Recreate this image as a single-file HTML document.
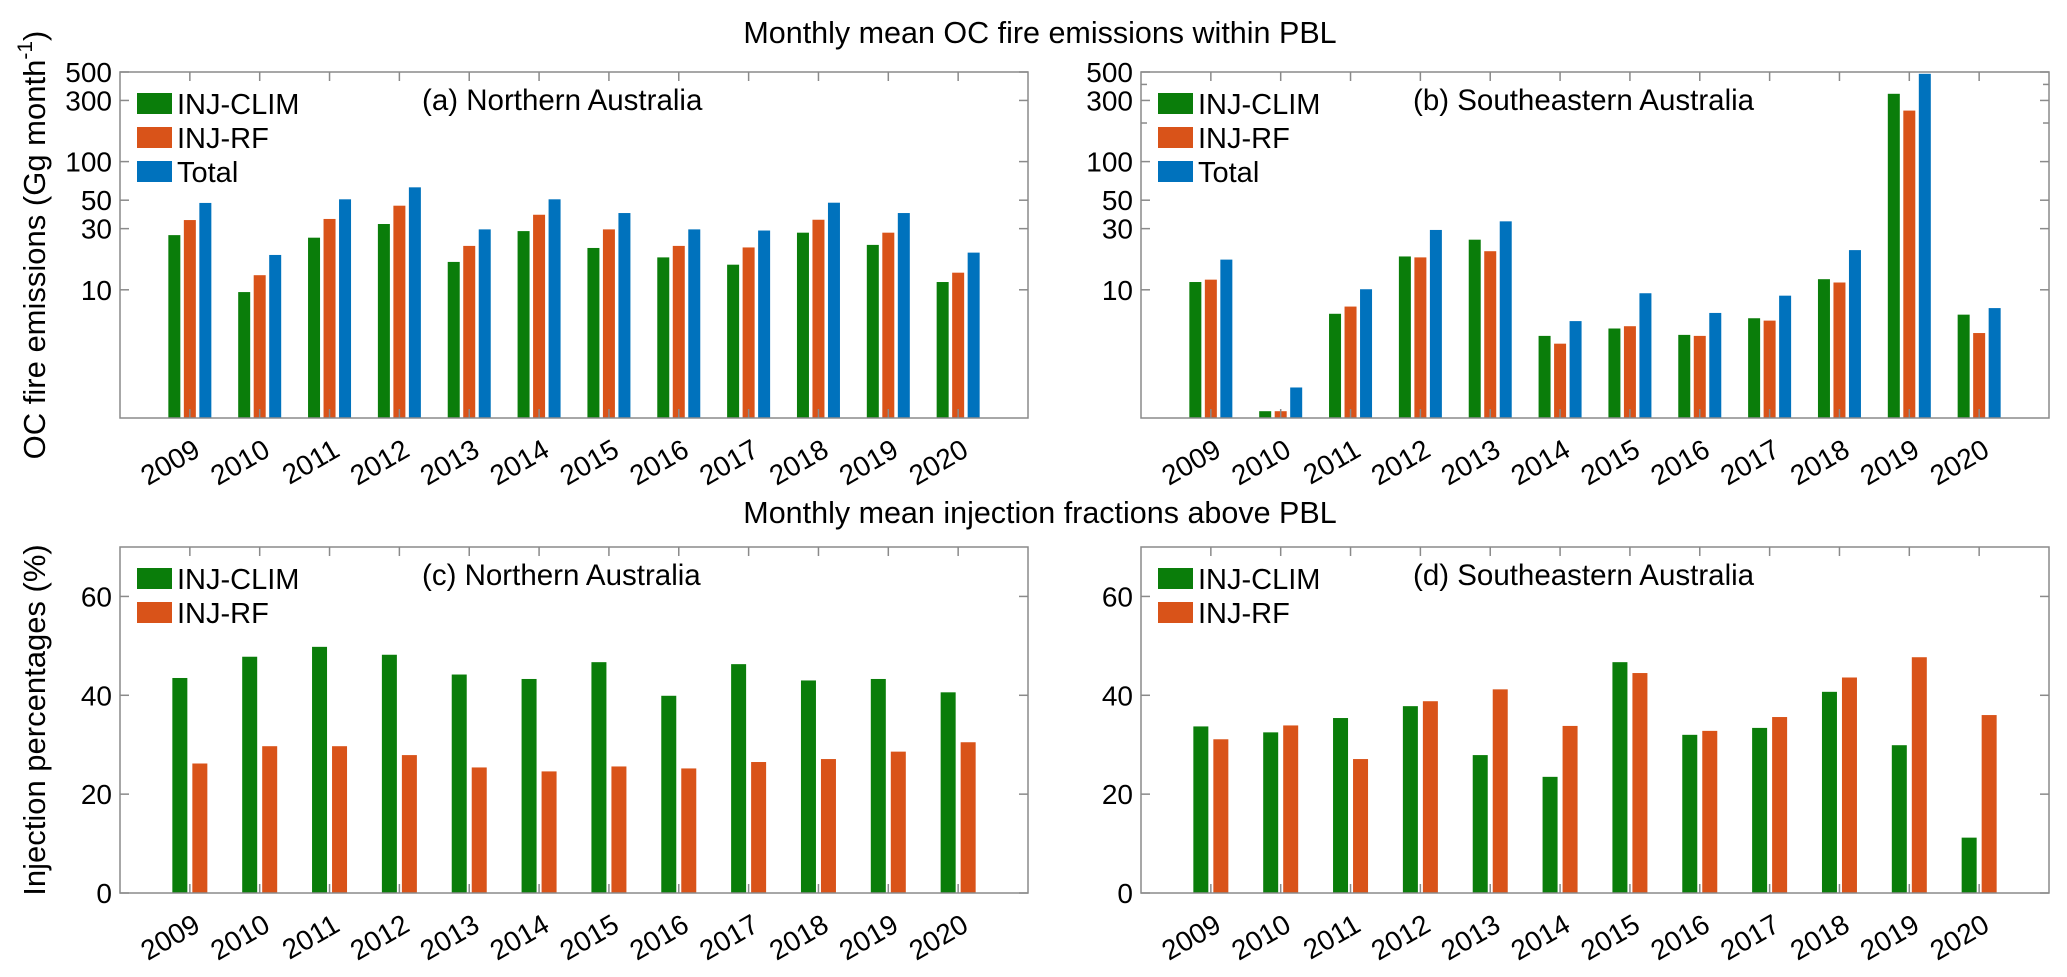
<!DOCTYPE html>
<html><head><meta charset="utf-8"><style>
body{margin:0;background:#fff;}
svg{display:block;font-family:"Liberation Sans",Arial,sans-serif;}
</style></head><body>
<svg id="fig" width="2067" height="977" xmlns="http://www.w3.org/2000/svg">
<text x="1040" y="43" font-size="30.5" text-anchor="middle">Monthly mean OC fire emissions within PBL</text>
<text x="1040" y="523" font-size="30.5" text-anchor="middle">Monthly mean injection fractions above PBL</text>
<text transform="translate(45,245) rotate(-90)" font-size="31" text-anchor="middle">OC fire emissions (Gg month<tspan dy="-13" font-size="21">-1</tspan><tspan dy="13">)</tspan></text>
<text transform="translate(45,720) rotate(-90)" font-size="31" text-anchor="middle">Injection percentages (%)</text>
</svg>
<script>
const years = ["2009","2010","2011","2012","2013","2014","2015","2016","2017","2018","2019","2020"];
const aClim = [26.7,9.6,25.5,32.6,16.5,28.7,21.2,17.9,15.7,27.9,22.4,11.5];
const aRf   = [35,13,35.7,45.3,22,38.5,29.6,22,21.4,35.2,27.9,13.6];
const aTot  = [47.6,18.7,50.8,63,29.6,50.8,39.7,29.6,29,47.8,39.7,19.5];
const bClim = [11.5,1.13,6.5,18.2,24.6,4.37,4.99,4.45,6.0,12.1,338,6.4];
const bRf   = [12,1.13,7.4,17.9,20,3.8,5.2,4.37,5.75,11.4,250,4.6];
const bTot  = [17.2,1.73,10.1,29.3,34.2,5.7,9.4,6.6,9.0,20.4,484,7.2];
const cClim = [43.5,47.8,49.8,48.2,44.2,43.3,46.7,39.9,46.3,43,43.3,40.6];
const cRf   = [26.2,29.7,29.7,27.9,25.4,24.6,25.6,25.2,26.5,27.1,28.6,30.5];
const dClim = [33.7,32.5,35.4,37.8,27.9,23.5,46.7,32,33.4,40.7,29.9,11.2];
const dRf   = [31.1,33.9,27.1,38.8,41.2,33.8,44.5,32.8,35.6,43.6,47.7,36];
const logTicks = [10,30,50,100,300,500];
const linTicks = [0,20,40,60];

const svg=document.getElementById('fig');
const NS="http://www.w3.org/2000/svg";
const GREEN="#0a7d0a",RED="#d95319",BLUE="#0072bd";
function mk(tag,attrs,parent){const e=document.createElementNS(NS,tag);for(const k in attrs)e.setAttribute(k,attrs[k]);(parent||svg).appendChild(e);return e;}

function panel(id,L,R,T,B,yfn,ticks,minor,series,colors,names,title,titleX,legY){
  const g=mk('g',{});
  
  
  const step=(R-L)/13;
  const xfn=i=>L+(i+1)*step;
  const n=series.length;
  const bw=n===3?12:15, off=n===3?15.5:20;
  series.forEach((s,si)=>{
    s.forEach((v,i)=>{
      const cx=xfn(i)+(si-(n-1)/2)*off;
      const y=yfn(v);
      const r=mk('rect',{x:cx-bw/2,y:y,width:bw,height:B-y,fill:colors[si]},g);
      
      
    });
  });
  mk('rect',{x:L,y:T,width:R-L,height:B-T,fill:'none',stroke:'#8a8a8a','stroke-width':1.5},g);
  years.forEach((yr,i)=>{
    const x=xfn(i);
    mk('line',{x1:x,x2:x,y1:B,y2:B-9,stroke:'#8a8a8a','stroke-width':1.5},g);
    mk('line',{x1:x,x2:x,y1:T,y2:T+9,stroke:'#8a8a8a','stroke-width':1.5},g);
    const t=mk('text',{x:x+12,y:B+37,'font-size':28,'text-anchor':'end',transform:`rotate(-30 ${x+12} ${B+37})`},g);
    t.textContent=yr;
    
    
  });
  minor.forEach(v=>{
    const y=yfn(v);
    mk('line',{x1:L,x2:L+6,y1:y,y2:y,stroke:'#8a8a8a','stroke-width':1.5},g);
    mk('line',{x1:R,x2:R-6,y1:y,y2:y,stroke:'#8a8a8a','stroke-width':1.5},g);
  });
  ticks.forEach(v=>{
    const y=yfn(v);
    mk('line',{x1:L,x2:L+9,y1:y,y2:y,stroke:'#8a8a8a','stroke-width':1.5},g);
    mk('line',{x1:R,x2:R-9,y1:y,y2:y,stroke:'#8a8a8a','stroke-width':1.5},g);
    const t=mk('text',{x:L-8,y:y+10,'font-size':28,'text-anchor':'end'},g);
    t.textContent=v;
    
    
  });
  names.forEach((nm,si)=>{
    const cy=legY+si*34;
    const p=mk('rect',{x:L+17,y:cy-10,width:35,height:21,fill:colors[si]},g);
    
    
    const t=mk('text',{x:L+57,y:cy+11,'font-size':29},g);
    t.textContent=nm;
    
    
  });
  const tt=mk('text',{x:titleX,y:T+38,'font-size':29.5},g);
  tt.textContent=title;
  
  
}
const logY=(T,B)=>v=>B-Math.log10(v)*(B-T)/Math.log10(500);
const linY=(T,B)=>v=>B-v*(B-T)/70;
panel('panel-a',120,1028,72,418,logY(72,418),logTicks,[],[aClim,aRf,aTot],[GREEN,RED,BLUE],["INJ-CLIM","INJ-RF","Total"],"(a) Northern Australia",422,103);
panel('panel-b',1141,2049,72,418,logY(72,418),logTicks,[200,400],[bClim,bRf,bTot],[GREEN,RED,BLUE],["INJ-CLIM","INJ-RF","Total"],"(b) Southeastern Australia",1413,103);
panel('panel-c',120,1028,547,893,linY(547,893),linTicks,[],[cClim,cRf],[GREEN,RED],["INJ-CLIM","INJ-RF"],"(c) Northern Australia",422,578);
panel('panel-d',1141,2049,547,893,linY(547,893),linTicks,[],[dClim,dRf],[GREEN,RED],["INJ-CLIM","INJ-RF"],"(d) Southeastern Australia",1413,578);
</script>
</body></html>
